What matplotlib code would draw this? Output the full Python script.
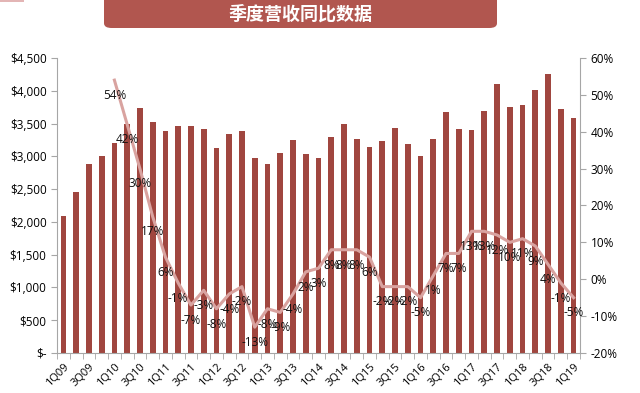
import numpy as np
import matplotlib.pyplot as plt
from matplotlib.patches import FancyBboxPatch
from matplotlib.ticker import FuncFormatter

plt.rcParams['font.family'] = ['Open Sans', 'Noto Sans CJK SC', 'DejaVu Sans']

# quarters 1Q09 .. 1Q19
quarters = [f"{q}Q{y:02d}" for y in range(9, 20) for q in range(1, 5)][:41]

revenue = [2090, 2460, 2880, 3005, 3200, 3490, 3735, 3525, 3390, 3460,
           3465, 3420, 3120, 3335, 3390, 2980, 2885, 3045, 3250, 3030,
           2980, 3290, 3500, 3265, 3145, 3230, 3425, 3185, 3005, 3270,
           3675, 3410, 3400, 3690, 4110, 3750, 3785, 4010, 4255, 3720,
           3590]

# YoY growth, from 1Q10 onwards
yoy = [54, 42, 30, 17, 6, -1, -7, -3, -8, -4, -2, -13, -8, -9, -4, 2, 3,
       8, 8, 8, 6, -2, -2, -2, -5, 1, 7, 7, 13, 13, 12, 10, 11, 9, 4, -1, -5]

bar_color = '#a0463f'
line_color = '#d9a3a0'
title_color = '#b1564f'
axis_color = '#a6a6a6'

fig = plt.figure(figsize=(6.4, 3.93), dpi=100)
ax = fig.add_axes([57 / 640, 40 / 393, 523 / 640, 295 / 393])

x = np.arange(len(revenue))
ax.bar(x, revenue, width=0.45, color=bar_color, zorder=2)
ax.set_xlim(-0.5, len(revenue) - 0.5)
ax.set_ylim(0, 4500)
ax.set_yticks(np.arange(0, 4501, 500))
ax.yaxis.set_major_formatter(FuncFormatter(
    lambda v, p: '$-' if v == 0 else f'${v:,.0f}'))

ax.set_xticks(x[::2])
ax.set_xticklabels(quarters[::2], rotation=45, ha='right',
                   rotation_mode='anchor')
ax.set_xticks(np.arange(-0.5, len(revenue), 1), minor=True)
ax.tick_params(axis='x', which='major', length=0, pad=6, labelsize=8)
ax.tick_params(axis='x', which='minor', length=4, color=axis_color)
ax.tick_params(axis='y', length=4, color=axis_color, labelsize=8.5)

for s in ['top', 'right']:
    ax.spines[s].set_visible(False)
for s in ['left', 'bottom']:
    ax.spines[s].set_color(axis_color)

ax2 = ax.twinx()
ax2.set_ylim(-20, 60)
ax2.set_yticks(np.arange(-20, 61, 10))
ax2.yaxis.set_major_formatter(FuncFormatter(lambda v, p: f'{v:.0f}%'))
ax2.tick_params(axis='y', length=4, color=axis_color, labelsize=8.5)
for s in ['top', 'left', 'bottom']:
    ax2.spines[s].set_visible(False)
ax2.spines['right'].set_color(axis_color)

lx = x[4:]
ax2.plot(lx, yoy, color=line_color, lw=2.2, zorder=3)
for xi, v in zip(lx, yoy):
    ax2.annotate(f'{v}%', (xi, v), xytext=(0, -11),
                 textcoords='offset points', ha='center', va='center',
                 fontsize=8.5, color='#111111')

# title banner
fig.patches.append(FancyBboxPatch(
    (104 / 640, 365 / 393), 393 / 640, 40 / 393,
    boxstyle='round,pad=0,rounding_size=0.012', transform=fig.transFigure,
    facecolor=title_color, edgecolor='none'))
fig.patches.append(plt.Rectangle(
    (0, 391 / 393), 24 / 640, 2 / 393, transform=fig.transFigure,
    facecolor='#e3b5b5', edgecolor='none'))
fig.text(300 / 640, 379 / 393, '季度营收同比数据', ha='center', va='center',
         fontsize=13, fontweight='bold', color='white',
         family=['Noto Sans CJK SC', 'DejaVu Sans'])

fig.savefig('out.png', dpi=100)
